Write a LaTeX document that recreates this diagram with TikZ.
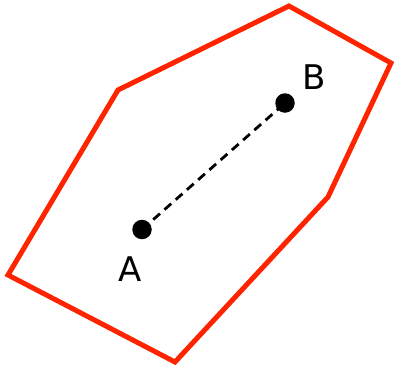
\documentclass[tikz,border=0pt]{standalone}
\usepackage{fontspec}
\setmainfont{DejaVu Sans}
\definecolor{polyred}{RGB}{255,36,0}
\begin{document}
\begin{tikzpicture}[x=1pt,y=-1pt,
  poly/.style={draw=polyred,line width=5pt,line join=miter},
  dot/.style={circle,fill=black,inner sep=0pt,minimum size=19.5pt},
  lbl/.style={inner sep=0pt,font=\fontsize{34}{34}\selectfont}]
\useasboundingbox (0,0) rectangle (394,370);
\coordinate (p1) at (118,90);
\coordinate (p2) at (289,6);
\coordinate (p3) at (391,63);
\coordinate (p4) at (328,197);
\coordinate (p5) at (175,362);
\coordinate (p6) at (8,275);
\draw[poly] (p1) -- (p2) -- (p3) -- (p4) -- (p5) -- (p6) -- cycle;
\node[dot] (A) at (142,229.5) {};
\node[dot] (B) at (285,103) {};
\draw[black,line width=2.8pt,dash pattern=on 9pt off 6pt] (A.center) -- (B.center);
\node[lbl] (la) at (130,269) {A};
\node[lbl] (lb) at (314.5,77) {B};
\end{tikzpicture}
\end{document}
